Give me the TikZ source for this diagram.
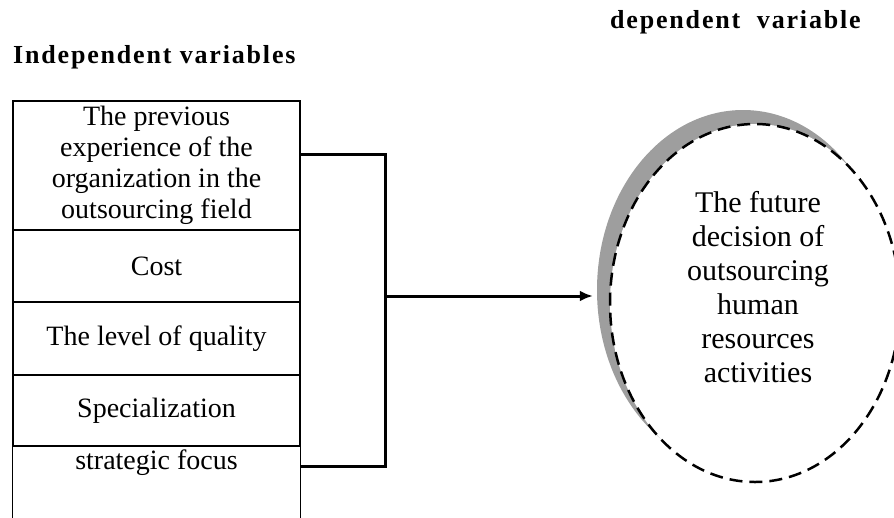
\documentclass[tikz,border=0pt]{standalone}
\usepackage{fontspec}
\setmainfont{Liberation Serif}
\newfontfamily\headfont[LetterSpace=7]{Liberation Serif}
\usetikzlibrary{arrows.meta,shapes.geometric}
\definecolor{shadegray}{RGB}{158,158,158}
\tikzset{
  cell/.style={draw=black, line width=1.2pt, minimum width=287pt, inner sep=0pt, align=center,
    font=\fontsize{28}{31}\selectfont},
  heading/.style={anchor=base west, inner sep=0pt, font=\headfont\bfseries\fontsize{26}{28}\selectfont},
  conn/.style={line width=3pt},
  arr/.style={conn, -{Latex[length=13pt,width=11pt]}},
}
\begin{document}
\begin{tikzpicture}[x=1pt,y=-1pt]
\useasboundingbox (0,0) rectangle (894,517);
% headings
\node[heading] (hind) at (13,63) {Independent variables};
\node[heading] (hdep) at (610,28) {dependent\ \ variable};
% left column
\node[cell, minimum height=129pt] (c1) at (156.5,165.5) {The previous\\experience of the\\organization in the\\outsourcing field};
\node[cell, minimum height=72pt] (c2) at (156.5,266) {Cost};
\node[cell, minimum height=73pt] (c3) at (156.5,338.5) {The level of quality};
\node[cell, minimum height=71pt] (c4) at (156.5,410.5) {Specialization};
\node[cell, draw=none, minimum height=71pt] (c5) at (156.5,481.5) {};
\node[inner sep=0pt, anchor=north, font=\fontsize{28}{31}\selectfont] (t5) at (156.5,450) {strategic focus};
\draw[line width=1.2pt] (c5.north west) -- (c5.south west);
\draw[line width=1.2pt] (c5.north east) -- (c5.south east);
% ellipse
\fill[shadegray] (743,290) ellipse [x radius=146pt, y radius=180pt];
\node[draw=black, fill=white, line width=2.5pt, dash pattern=on 13pt off 7pt, ellipse,
  minimum width=290pt, minimum height=358pt, inner sep=0pt] (dv) at (755,303) {};
\node[align=center, inner sep=0pt, font=\fontsize{30}{34}\selectfont] (dvt) at (758,287)
  {The future\\decision of\\outsourcing\\human\\resources\\activities};
% connectors
\coordinate (j) at (385,296);
\draw[conn] ([yshift=11.5pt]c1.east) -| (j);
\draw[conn] ([yshift=-21pt]c5.north east) -| (j);
\draw[arr] (j) -- ([xshift=-16pt]j -| dv.west);
\end{tikzpicture}
\end{document}
